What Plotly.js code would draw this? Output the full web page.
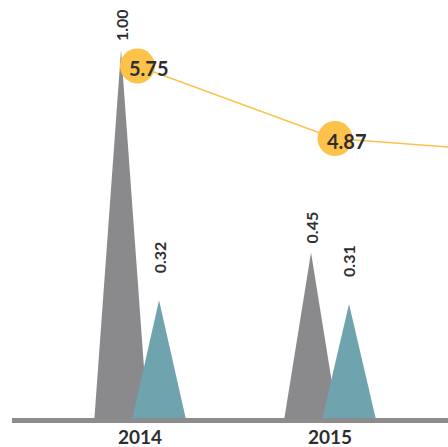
<!DOCTYPE html>
<html>
<head>
<meta charset="utf-8">
<script src="https://cdn.plot.ly/plotly-3.0.1.min.js"></script>
<style>html,body{margin:0;padding:0;background:#fff;}#chart{width:448px;height:447px;}</style>
</head>
<body>
<div id="chart"></div>
<script>
// ---- data ----
const categories = ["2014", "2015", "2016"];
const seriesA = [1.00, 0.45, null];   // gray peaks
const seriesB = [0.32, 0.31, null];   // teal peaks
const lineValues = [5.75, 4.87, 4.69];

// ---- style ----
const grayColor = "#8a8a8c";
const tealColor = "#6fa3ae";
const yellow = "#fdc24a";
const textColor = "#2e2e2e";
const font = "Lato, 'Open Sans', sans-serif";
const offset = 0.1, halfW = 0.14;

const traces = [];
const annotations = [];
function addPeaks(vals, dx, color, shift) {
  vals.forEach((v, i) => {
    if (v === null) return;
    const c = i + dx;
    traces.push({
      type: "scatter", mode: "lines", x: [c - halfW, c, c + halfW, c - halfW], y: [0, v, 0, 0],
      fill: "toself", fillcolor: color, line: {width: 0, color: color},
      hoverinfo: "skip", showlegend: false, xaxis: "x", yaxis: "y"
    });
    annotations.push({
      x: c, y: v, xref: "x", yref: "y", text: v.toFixed(2), showarrow: false,
      textangle: -90, yanchor: "middle", xanchor: "center", yshift: shift,
      font: {family: font, size: 16, color: textColor, weight: "bold"}
    });
  });
}
addPeaks(seriesA, -offset, grayColor, 25);
addPeaks(seriesB, offset, tealColor, 43);

const idx = categories.map((c, i) => i);
traces.push({
  type: "scatter", mode: "lines+markers", x: idx, y: lineValues,
  line: {color: yellow, width: 1.5}, marker: {color: yellow, size: 35},
  hoverinfo: "skip", showlegend: false, xaxis: "x2", yaxis: "y2", cliponaxis: false
});
lineValues.forEach((v, i) => {
  annotations.push({
    x: i, y: v, xref: "x2", yref: "y2", text: v.toFixed(2), showarrow: false,
    xshift: 12, yshift: -2,
    font: {family: font, size: 20, color: textColor, weight: "bold"}
  });
});

const layout = {
  width: 448, height: 447,
  margin: {l: 12, r: 0, t: 0, b: 29},
  paper_bgcolor: "#fff", plot_bgcolor: "#fff",
  showlegend: false,
  xaxis: {
    range: [-0.674, 1.621], tickvals: idx, ticktext: categories,
    showgrid: false, zeroline: false, showline: true, linecolor: "#8c8c8c", linewidth: 4.5,
    ticks: "", ticklabelstandoff: -1,
    tickfont: {family: font, size: 19, color: textColor, weight: "bold"}
  },
  xaxis2: {range: [-0.6354, 1.5722], overlaying: "x", visible: false},
  yaxis: {range: [0, 1.136], visible: false, showgrid: false, zeroline: false},
  yaxis2: {range: [1.478, 6.551], overlaying: "y", visible: false},
  annotations: annotations
};

Plotly.newPlot("chart", traces, layout, {displayModeBar: false, staticPlot: true});
</script>
</body>
</html>
